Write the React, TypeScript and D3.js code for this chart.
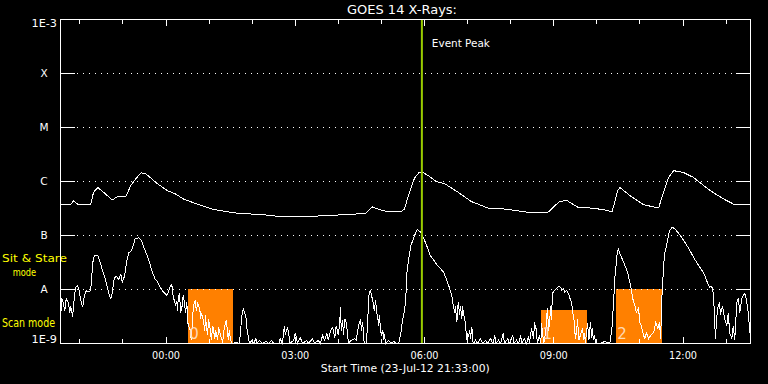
import React from 'react';
import * as d3 from 'd3';

const W = 768;
const H = 384;
const BOX = { left: 60, right: 750, top: 19, bottom: 343 };

const title = 'GOES 14 X-Rays:';
const startLabel = 'Start Time (23-Jul-12 21:33:00)';
const START = new Date(2012, 6, 23, 21, 33, 0);
const spanMinutes = 961;

const yTickValues = [1e-9, 1e-8, 1e-7, 1e-6, 1e-5, 1e-4, 1e-3];
const yTickLabels = ['1E-9', 'A', 'B', 'C', 'M', 'X', '1E-3'];
const xTickLabels = ['00:00', '03:00', '06:00', '09:00', '12:00'];

const eventPeakMinute = 504;
const eventLabel = 'Event Peak';

// scan-mode boxes: start/end minutes from start, top as log10 flux
const boxStarts = [178, 670, 774];
const boxEnds = [241, 734, 838];
const boxTops = [-8.0, -8.39, -8.0];
const boxLabels = ['0', '1', '2'];

const modeLabels = ['Sit & Stare', 'mode', 'Scan mode'];

// long channel (1-8 Å): [minutes from start, log10 flux]
const longChannel: [number, number][] = [
  [0, -6.43], [14, -6.43], [18, -6.36], [25, -6.43], [42, -6.43], [46, -6.2], [52, -6.11], [60, -6.2],
  [72, -6.34], [81, -6.27], [91, -6.28], [98, -6.07], [105, -5.95], [112, -5.84], [119, -5.86], [135, -6.04],
  [149, -6.17], [160, -6.23], [172, -6.33], [195, -6.44], [214, -6.52], [241, -6.58], [286, -6.62], [300, -6.64],
  [358, -6.64], [402, -6.61], [425, -6.59], [434, -6.47], [444, -6.52], [456, -6.56], [474, -6.56], [479, -6.51],
  [486, -6.2], [493, -5.94], [499, -5.84], [503, -5.82], [512, -5.89], [523, -6.0], [535, -6.04], [554, -6.2],
  [572, -6.37], [595, -6.49], [619, -6.51], [651, -6.57], [679, -6.57], [686, -6.48], [695, -6.37], [705, -6.35],
  [721, -6.48], [737, -6.49], [756, -6.52], [768, -6.56], [772, -6.38], [776, -6.17], [779, -6.11], [793, -6.26],
  [812, -6.43], [833, -6.49], [840, -6.2], [847, -5.92], [854, -5.8], [867, -5.83], [881, -5.92], [905, -6.17],
  [923, -6.32], [939, -6.43], [960, -6.43],
];

// short channel (0.5-4 Å): [minutes from start, log10 flux]
const shortChannel: [number, number][] = [
  [0, -9.0], [1, -8.17], [3, -8.2], [6, -8.39], [8, -8.17], [11, -8.24], [13, -8.44], [14, -8.3], [17, -8.5],
  [18, -8.3], [21, -7.96], [24, -7.93], [26, -8.02], [28, -8.19], [31, -8.33], [33, -8.13], [36, -8.02],
  [39, -8.04], [42, -8.02], [45, -7.5], [47, -7.37], [52, -7.37], [54, -7.44], [59, -7.67], [63, -7.83],
  [67, -8.06], [70, -8.17], [72, -8.07], [75, -7.78], [78, -7.76], [81, -7.81], [84, -7.72], [86, -7.87],
  [89, -7.76], [92, -7.5], [95, -7.31], [98, -7.3], [100, -7.24], [104, -7.06], [109, -7.04], [113, -7.09],
  [116, -7.22], [120, -7.35], [124, -7.5], [128, -7.69], [132, -7.81], [135, -7.85], [138, -7.94], [141, -8.0],
  [143, -8.04], [148, -8.11], [150, -8.06], [153, -7.94], [155, -7.91], [157, -8.13], [160, -8.28], [162, -8.22],
  [163, -8.39], [164, -8.15], [166, -8.07], [167, -8.44], [169, -8.35], [170, -8.2], [171, -8.11], [173, -8.26],
  [174, -8.44], [176, -8.24], [177, -8.57], [178, -8.67], [181, -8.76], [182, -8.94], [184, -8.57], [185, -8.3],
  [188, -8.2], [189, -8.39], [191, -8.26], [194, -8.35], [195, -8.54], [196, -8.43], [199, -8.57], [201, -8.76],
  [202, -8.48], [203, -8.67], [205, -8.85], [206, -8.54], [209, -8.76], [210, -8.94], [212, -8.67], [215, -8.91],
  [216, -8.76], [219, -8.94], [220, -8.69], [223, -8.85], [226, -8.98], [227, -8.8], [230, -8.61], [231, -8.57],
  [233, -8.85], [234, -8.94], [235, -8.76], [237, -8.94], [238, -8.98], [240, -9.0], [245, -8.98], [249, -9.0],
  [251, -8.76], [252, -8.54], [254, -8.39], [255, -8.35], [256, -8.43], [258, -8.48], [259, -8.61], [260, -8.76],
  [262, -8.91], [263, -9.0], [267, -8.94], [269, -9.0], [272, -8.91], [274, -9.0], [277, -8.94], [281, -9.0],
  [287, -8.96], [290, -9.0], [294, -8.94], [297, -9.0], [304, -9.0], [306, -8.91], [309, -9.0], [311, -8.76],
  [312, -8.67], [313, -8.85], [316, -8.7], [318, -8.81], [319, -9.0], [325, -8.94], [327, -8.8], [330, -9.0],
  [334, -8.89], [337, -9.0], [343, -8.94], [345, -9.0], [351, -8.91], [354, -9.0], [359, -8.94], [362, -9.0],
  [365, -8.85], [368, -8.94], [371, -8.81], [373, -8.94], [376, -8.76], [379, -8.7], [382, -8.89], [384, -8.67],
  [387, -8.85], [389, -8.57], [390, -8.33], [391, -8.76], [393, -8.57], [394, -8.85], [396, -8.54], [398, -8.61],
  [400, -8.85], [401, -9.0], [405, -8.94], [410, -8.91], [412, -8.94], [415, -8.67], [418, -8.54], [419, -8.76],
  [421, -8.61], [422, -8.85], [423, -9.0], [426, -9.0], [428, -8.57], [429, -8.2], [430, -8.06], [432, -8.02],
  [433, -8.11], [435, -8.2], [436, -8.3], [437, -8.39], [439, -8.2], [440, -8.39], [442, -8.54], [443, -8.67],
  [444, -8.48], [446, -8.76], [447, -8.85], [449, -8.76], [450, -8.94], [451, -8.83], [453, -9.0], [457, -8.94],
  [460, -9.0], [464, -8.96], [468, -9.0], [471, -9.0], [474, -8.81], [476, -8.61], [479, -8.39], [481, -8.17],
  [482, -7.74], [485, -7.43], [488, -7.19], [492, -7.04], [495, -6.94], [497, -6.89], [501, -6.93], [504, -7.0],
  [507, -7.09], [511, -7.22], [515, -7.37], [520, -7.46], [524, -7.54], [529, -7.61], [534, -7.69], [538, -7.83],
  [542, -7.98], [545, -8.11], [547, -8.3], [549, -8.43], [550, -8.3], [552, -8.61], [553, -8.39], [554, -8.24],
  [556, -8.48], [557, -8.3], [559, -8.54], [560, -8.3], [561, -8.43], [563, -8.54], [564, -8.67], [566, -8.94],
  [567, -8.8], [568, -8.87], [570, -8.76], [571, -8.91], [573, -8.69], [574, -8.94], [575, -9.0], [578, -8.94],
  [581, -9.0], [585, -8.91], [588, -9.0], [592, -8.94], [595, -9.0], [599, -8.91], [602, -9.0], [605, -8.85],
  [606, -9.0], [610, -8.94], [613, -9.0], [617, -8.8], [618, -9.0], [623, -8.91], [625, -9.0], [630, -8.85],
  [631, -9.0], [635, -8.94], [638, -9.0], [641, -8.85], [642, -9.0], [646, -8.91], [649, -9.0], [652, -8.87],
  [653, -9.0], [656, -8.72], [659, -8.91], [660, -8.61], [663, -8.76], [664, -9.0], [667, -8.85], [669, -9.0],
  [670, -8.63], [673, -9.0], [676, -8.76], [678, -8.35], [680, -8.76], [683, -8.3], [684, -8.57], [685, -8.07],
  [688, -8.02], [691, -7.98], [694, -7.94], [697, -7.96], [698, -8.02], [701, -7.98], [702, -8.06], [705, -8.02],
  [708, -8.09], [709, -8.15], [712, -8.24], [713, -8.39], [715, -8.54], [716, -8.67], [717, -8.91], [719, -8.76],
  [720, -8.54], [722, -8.94], [724, -8.85], [727, -8.72], [729, -8.94], [730, -8.8], [731, -9.0], [734, -8.63],
  [736, -8.94], [738, -8.61], [740, -8.89], [741, -8.72], [742, -8.94], [744, -8.85], [745, -9.0], [752, -9.0],
  [758, -8.96], [765, -9.0], [768, -8.72], [770, -8.3], [772, -7.8], [775, -7.37], [777, -7.24], [779, -7.33],
  [785, -7.52], [790, -7.69], [794, -7.93], [797, -8.17], [800, -8.3], [802, -8.43], [805, -8.35], [807, -8.61],
  [809, -8.67], [812, -8.85], [814, -8.91], [816, -8.8], [819, -8.91], [822, -8.85], [826, -8.8], [829, -8.61],
  [832, -8.72], [834, -8.61], [836, -8.91], [837, -8.3], [839, -7.8], [841, -7.37], [846, -7.06], [848, -6.91],
  [852, -6.85], [855, -6.87], [861, -6.96], [868, -7.09], [875, -7.24], [882, -7.41], [889, -7.56], [896, -7.7],
  [901, -7.87], [904, -7.96], [907, -7.94], [909, -8.06], [911, -8.48], [912, -8.91], [915, -8.35], [918, -8.24],
  [919, -8.48], [922, -8.3], [925, -8.54], [928, -8.67], [930, -8.43], [932, -8.8], [935, -8.91], [937, -8.67],
  [939, -8.94], [942, -8.24], [944, -8.15], [946, -8.43], [949, -8.17], [951, -8.11], [953, -8.07], [955, -8.17],
  [958, -8.43], [960, -8.8],
];

const FONT = 'DejaVu Sans';

const minuteToDate = (m: number) => new Date(START.getTime() + m * 60000);
const labelToDate = (s: string) => {
  const [h, mm] = s.split(':').map(Number);
  const d = new Date(START.getTime());
  d.setHours(h, mm, 0, 0);
  if (d < START) d.setDate(d.getDate() + 1);
  return d;
};

export default function App() {
  const x = d3.scaleTime().domain([START, minuteToDate(spanMinutes)]).range([BOX.left, BOX.right]);
  const y = d3.scaleLog().domain([1e-9, 1e-3]).range([BOX.bottom, BOX.top]);
  const line = d3
    .line<[number, number]>()
    .x((d) => x(minuteToDate(d[0])))
    .y((d) => y(Math.pow(10, d[1])));

  const hourTicks = d3.timeHour.range(START, minuteToDate(spanMinutes));

  return (
    <svg
      width={W}
      height={H}
      style={{ position: 'absolute', left: 0, top: 0, display: 'block' }}
      fontFamily={FONT}
    >
      <defs>
        <clipPath id="plotClip">
          <rect x={BOX.left} y={BOX.top} width={BOX.right - BOX.left + 1} height={BOX.bottom - BOX.top + 1} />
        </clipPath>
      </defs>
      <rect x={0} y={0} width={W} height={H} fill="#000" />

      {/* scan boxes */}
      {boxStarts.map((s, i) => {
        const x0 = x(minuteToDate(s));
        const x1 = x(minuteToDate(boxEnds[i]));
        const yt = y(Math.pow(10, boxTops[i]));
        return (
          <rect key={'b' + i} x={Math.round(x0)} y={Math.round(yt)} width={Math.round(x1 - x0)} height={BOX.bottom - Math.round(yt)} fill="#ff8000" />
        );
      })}

      {/* dotted grid */}
      {yTickValues.slice(1, -1).map((v, i) => (
        <line
          key={'g' + i}
          x1={77}
          x2={736}
          y1={y(v) + 0.5}
          y2={y(v) + 0.5}
          stroke="#fff"
          strokeWidth={1}
          strokeDasharray="1 5"
          shapeRendering="crispEdges"
        />
      ))}

      {/* curves */}
      <g clipPath="url(#plotClip)" transform="translate(0.5,0.5)">
        <path d={line(longChannel) || ''} fill="none" stroke="#fff" strokeWidth={1} shapeRendering="crispEdges" />
        <path d={line(shortChannel) || ''} fill="none" stroke="#fff" strokeWidth={1} shapeRendering="crispEdges" />
      </g>

      {/* box labels */}
      {boxStarts.map((s, i) => (
        <text key={'bl' + i} x={x(minuteToDate(s)) + 1.5} y={339} fontSize={15} fill="#ffd9b3">
          {boxLabels[i]}
        </text>
      ))}

      {/* event peak */}
      <rect x={x(minuteToDate(eventPeakMinute)) - 1} y={BOX.top} width={2} height={BOX.bottom - BOX.top} fill="#99cc00" />
      <text x={x(minuteToDate(eventPeakMinute)) + 10} y={47} fontSize={10.5} fill="#fff" textLength={58} lengthAdjust="spacingAndGlyphs">
        {eventLabel}
      </text>

      {/* mode labels */}
      <text x={2} y={262} fontSize={11} fill="#ffff00" textLength={65} lengthAdjust="spacingAndGlyphs">{modeLabels[0]}</text>
      <text x={12.7} y={276} fontSize={11} fill="#ffff00" textLength={23.5} lengthAdjust="spacingAndGlyphs">{modeLabels[1]}</text>
      <text x={2} y={327} fontSize={11.5} fill="#ffff00" textLength={53} lengthAdjust="spacingAndGlyphs">{modeLabels[2]}</text>

      {/* frame */}
      <g shapeRendering="crispEdges" stroke="#fff" strokeWidth={1}>
        <rect x={BOX.left + 0.5} y={BOX.top + 0.5} width={BOX.right - BOX.left} height={BOX.bottom - BOX.top} fill="none" />
        {yTickValues.slice(1, -1).map((v, i) => (
          <g key={'yt' + i}>
            <line x1={BOX.left} x2={BOX.left + 15} y1={y(v) + 0.5} y2={y(v) + 0.5} />
            <line x1={BOX.right - 14} x2={BOX.right + 1} y1={y(v) + 0.5} y2={y(v) + 0.5} />
          </g>
        ))}
        {hourTicks.map((d, i) => {
          const major = d.getHours() % 3 === 0;
          const len = major ? 6 : 4;
          const xx = Math.round(x(d)) + 0.5;
          return (
            <g key={'xt' + i}>
              <line x1={xx} x2={xx} y1={BOX.top} y2={BOX.top + len + 1} />
              <line x1={xx} x2={xx} y1={BOX.bottom + 1} y2={BOX.bottom - len} />
            </g>
          );
        })}
      </g>

      {/* y labels */}
      {yTickLabels.map((lab, i) => {
        const yy = y(yTickValues[i]);
        const isNum = lab.startsWith('1E');
        if (isNum) {
          const base = i === 0 ? yy : yy + 8;
          return (
            <text key={'yl' + i} x={57} y={base} fontSize={10.5} fill="#fff" textAnchor="end" textLength={25.5} lengthAdjust="spacingAndGlyphs">
              {lab}
            </text>
          );
        }
        return (
          <text key={'yl' + i} x={44} y={yy + 4} fontSize={10.5} fill="#fff" textAnchor="middle">
            {lab}
          </text>
        );
      })}

      {/* x labels */}
      {xTickLabels.map((lab, i) => (
        <text key={'xl' + i} x={x(labelToDate(lab)) + 0.5} y={358.5} fontSize={10.5} fill="#fff" textAnchor="middle" textLength={28} lengthAdjust="spacingAndGlyphs">
          {lab}
        </text>
      ))}

      <text x={402} y={14} fontSize={12} fill="#fff" textAnchor="middle" textLength={110} lengthAdjust="spacingAndGlyphs">
        {title}
      </text>
      <text x={405.3} y={371.5} fontSize={10.5} fill="#fff" textAnchor="middle" textLength={169} lengthAdjust="spacingAndGlyphs">
        {startLabel}
      </text>
    </svg>
  );
}
